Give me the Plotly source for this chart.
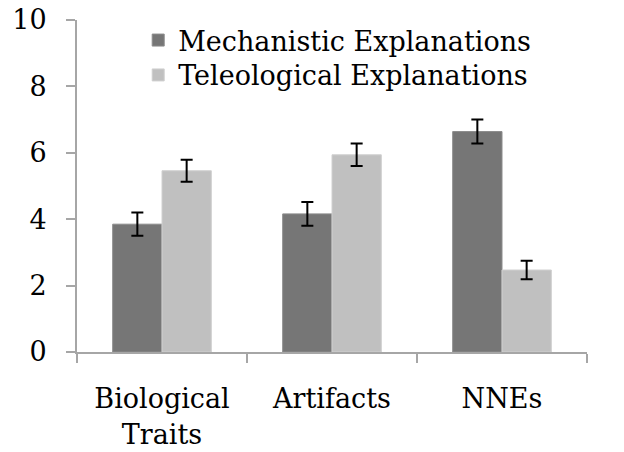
import plotly.graph_objects as go

categories = ["Biological<br>Traits", "Artifacts", "NNEs"]
mech_values = [3.85, 4.16, 6.64]
mech_err = [0.35, 0.36, 0.36]
tele_values = [5.46, 5.94, 2.47]
tele_err = [0.33, 0.34, 0.28]
y_ticks = [0, 2, 4, 6, 8, 10]

FONT = "DejaVu Serif"
FS = 27

fig = go.Figure()
fig.add_trace(go.Bar(
    name="Mechanistic Explanations", x=categories, y=mech_values,
    marker=dict(color="#767676", line=dict(color="#8c8c8c", width=1)),
    error_y=dict(type="data", array=mech_err, color="black", thickness=2, width=6),
    legend="legend",
))
fig.add_trace(go.Bar(
    name="Teleological Explanations", x=categories, y=tele_values,
    marker=dict(color="#c0c0c0", line=dict(color="#d0d0d0", width=1)),
    error_y=dict(type="data", array=tele_err, color="black", thickness=2, width=6),
    legend="legend2",
))

fig.update_layout(
    width=624, height=452,
    margin=dict(l=77, r=37, t=20, b=100, autoexpand=False),
    paper_bgcolor="white", plot_bgcolor="white",
    font=dict(family=FONT, size=FS, color="black"),
    barmode="group", bargap=0.42, bargroupgap=0,
    legend=dict(x=0.12, y=1.012, xanchor="left", yanchor="top",
                bgcolor="rgba(0,0,0,0)", font=dict(size=FS, family=FONT),
                itemwidth=30),
    legend2=dict(x=0.12, y=0.907, xanchor="left", yanchor="top",
                 bgcolor="rgba(0,0,0,0)", font=dict(size=FS, family=FONT),
                 itemwidth=30),
    showlegend=True,
)
fig.update_xaxes(
    automargin=False,
    showline=True, linecolor="#a6a6a6", linewidth=2,
    ticks="outside", tickson="boundaries", ticklen=9, tickcolor="#a6a6a6", tickwidth=2,
    showgrid=False, tickfont=dict(size=FS, family=FONT),
    ticklabelstandoff=22, ticklabeloverflow="allow",
)
fig.update_yaxes(
    automargin=False,
    range=[0, 10], tickvals=y_ticks,
    showline=True, linecolor="#a6a6a6", linewidth=2,
    ticks="outside", ticklen=9, tickcolor="#a6a6a6", tickwidth=2,
    showgrid=False, zeroline=False, tickfont=dict(size=FS, family=FONT),
    ticklabelstandoff=14, ticklabeloverflow="allow",
)

fig.write_html("out.html", config={"displayModeBar": False},
               post_script="document.body.style.margin='0';")
